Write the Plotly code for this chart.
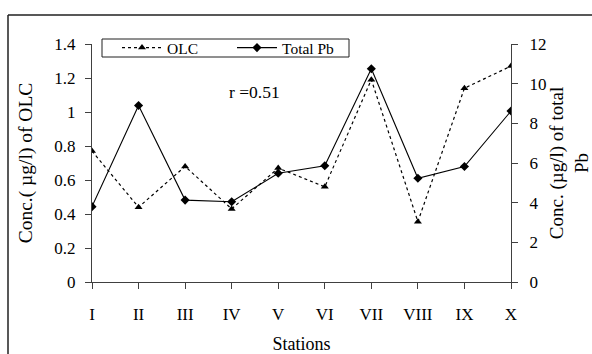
import plotly.graph_objects as go

stations = ["I", "II", "III", "IV", "V", "VI", "VII", "VIII", "IX", "X"]
olc = [0.77, 0.44, 0.68, 0.43, 0.67, 0.56, 1.19, 0.355, 1.14, 1.27]
total_pb = [3.8, 8.9, 4.13, 4.05, 5.48, 5.86, 10.75, 5.23, 5.82, 8.62]

FONT = "Liberation Serif, Times New Roman, serif"
AX = "#404040"

fig = go.Figure()
fig.add_trace(go.Scatter(
    x=stations, y=olc, name="OLC", mode="lines+markers",
    line=dict(color="black", width=1.2, dash="dot"),
    marker=dict(symbol="triangle-up", size=7, color="black"),
    yaxis="y"))
fig.add_trace(go.Scatter(
    x=stations, y=total_pb, name="Total Pb", mode="lines+markers",
    line=dict(color="black", width=1.1),
    marker=dict(symbol="diamond", size=7, color="black"),
    yaxis="y2"))

W, H = 592, 354
L, R, T, B = 92, 81, 44, 72
pw, ph = W - L - R, H - T - B

def px(x):
    return (x - L) / pw

def py(y):
    return (H - B - y) / ph

def tf(size=17):
    return dict(family=FONT, size=size, color="black")

fig.update_layout(
    width=W, height=H,
    margin=dict(l=L, r=R, t=T, b=B, autoexpand=False),
    paper_bgcolor="white", plot_bgcolor="white",
    font=tf(),
    showlegend=True,
    legend=dict(orientation="h", x=px(117), y=py(48), xanchor="left", yanchor="middle",
                borderwidth=0, bgcolor="rgba(0,0,0,0)",
                font=tf(15.5), entrywidth=60, itemwidth=40, tracegroupgap=0),
    xaxis=dict(type="category", range=[0, 9], showgrid=False, zeroline=False,
               automargin=False,
               showline=True, linecolor=AX, linewidth=1.3,
               ticks="outside", ticklen=6, tickcolor=AX, ticklabelstandoff=10,
               title=dict(text="Stations", standoff=14, font=tf(18)),
               tickfont=tf()),
    yaxis=dict(range=[0, 1.4], dtick=0.2, showgrid=False, zeroline=False,
               automargin=False,
               showline=True, linecolor=AX, linewidth=1.3,
               ticks="outside", ticklen=6, tickcolor=AX, ticklabelstandoff=6,
               tickformat="~g",
               title=dict(text="Conc.( µg/l) of OLC", standoff=16, font=tf(19.5)),
               tickfont=tf()),
    yaxis2=dict(range=[0, 12], dtick=2, overlaying="y", side="right",
                automargin=False,
                showgrid=False, zeroline=False,
                showline=True, linecolor=AX, linewidth=1.3,
                ticks="outside", ticklen=6, tickcolor=AX, ticklabelstandoff=8,
                title=dict(text="Conc. (µg/l) of total<br>Pb", standoff=16, font=tf(19)),
                tickfont=tf()),
    annotations=[dict(text="r =0.51", x=px(227), y=py(80), xref="paper", yref="paper",
                      showarrow=False, font=tf(17.5))],
    shapes=[
        dict(type="line", xref="paper", yref="paper", x0=px(8), y0=py(15), x1=px(600), y1=py(15),
             line=dict(color="#202020", width=1.5)),
        dict(type="line", xref="paper", yref="paper", x0=px(8), y0=py(15), x1=px(8), y1=py(360),
             line=dict(color="#202020", width=1.5)),
        dict(type="rect", xref="paper", yref="paper", x0=px(102), y0=py(39), x1=px(349), y1=py(57),
             line=dict(color="#202020", width=1), fillcolor="rgba(0,0,0,0)", layer="below"),
    ],
)

fig.write_html("out.html")
